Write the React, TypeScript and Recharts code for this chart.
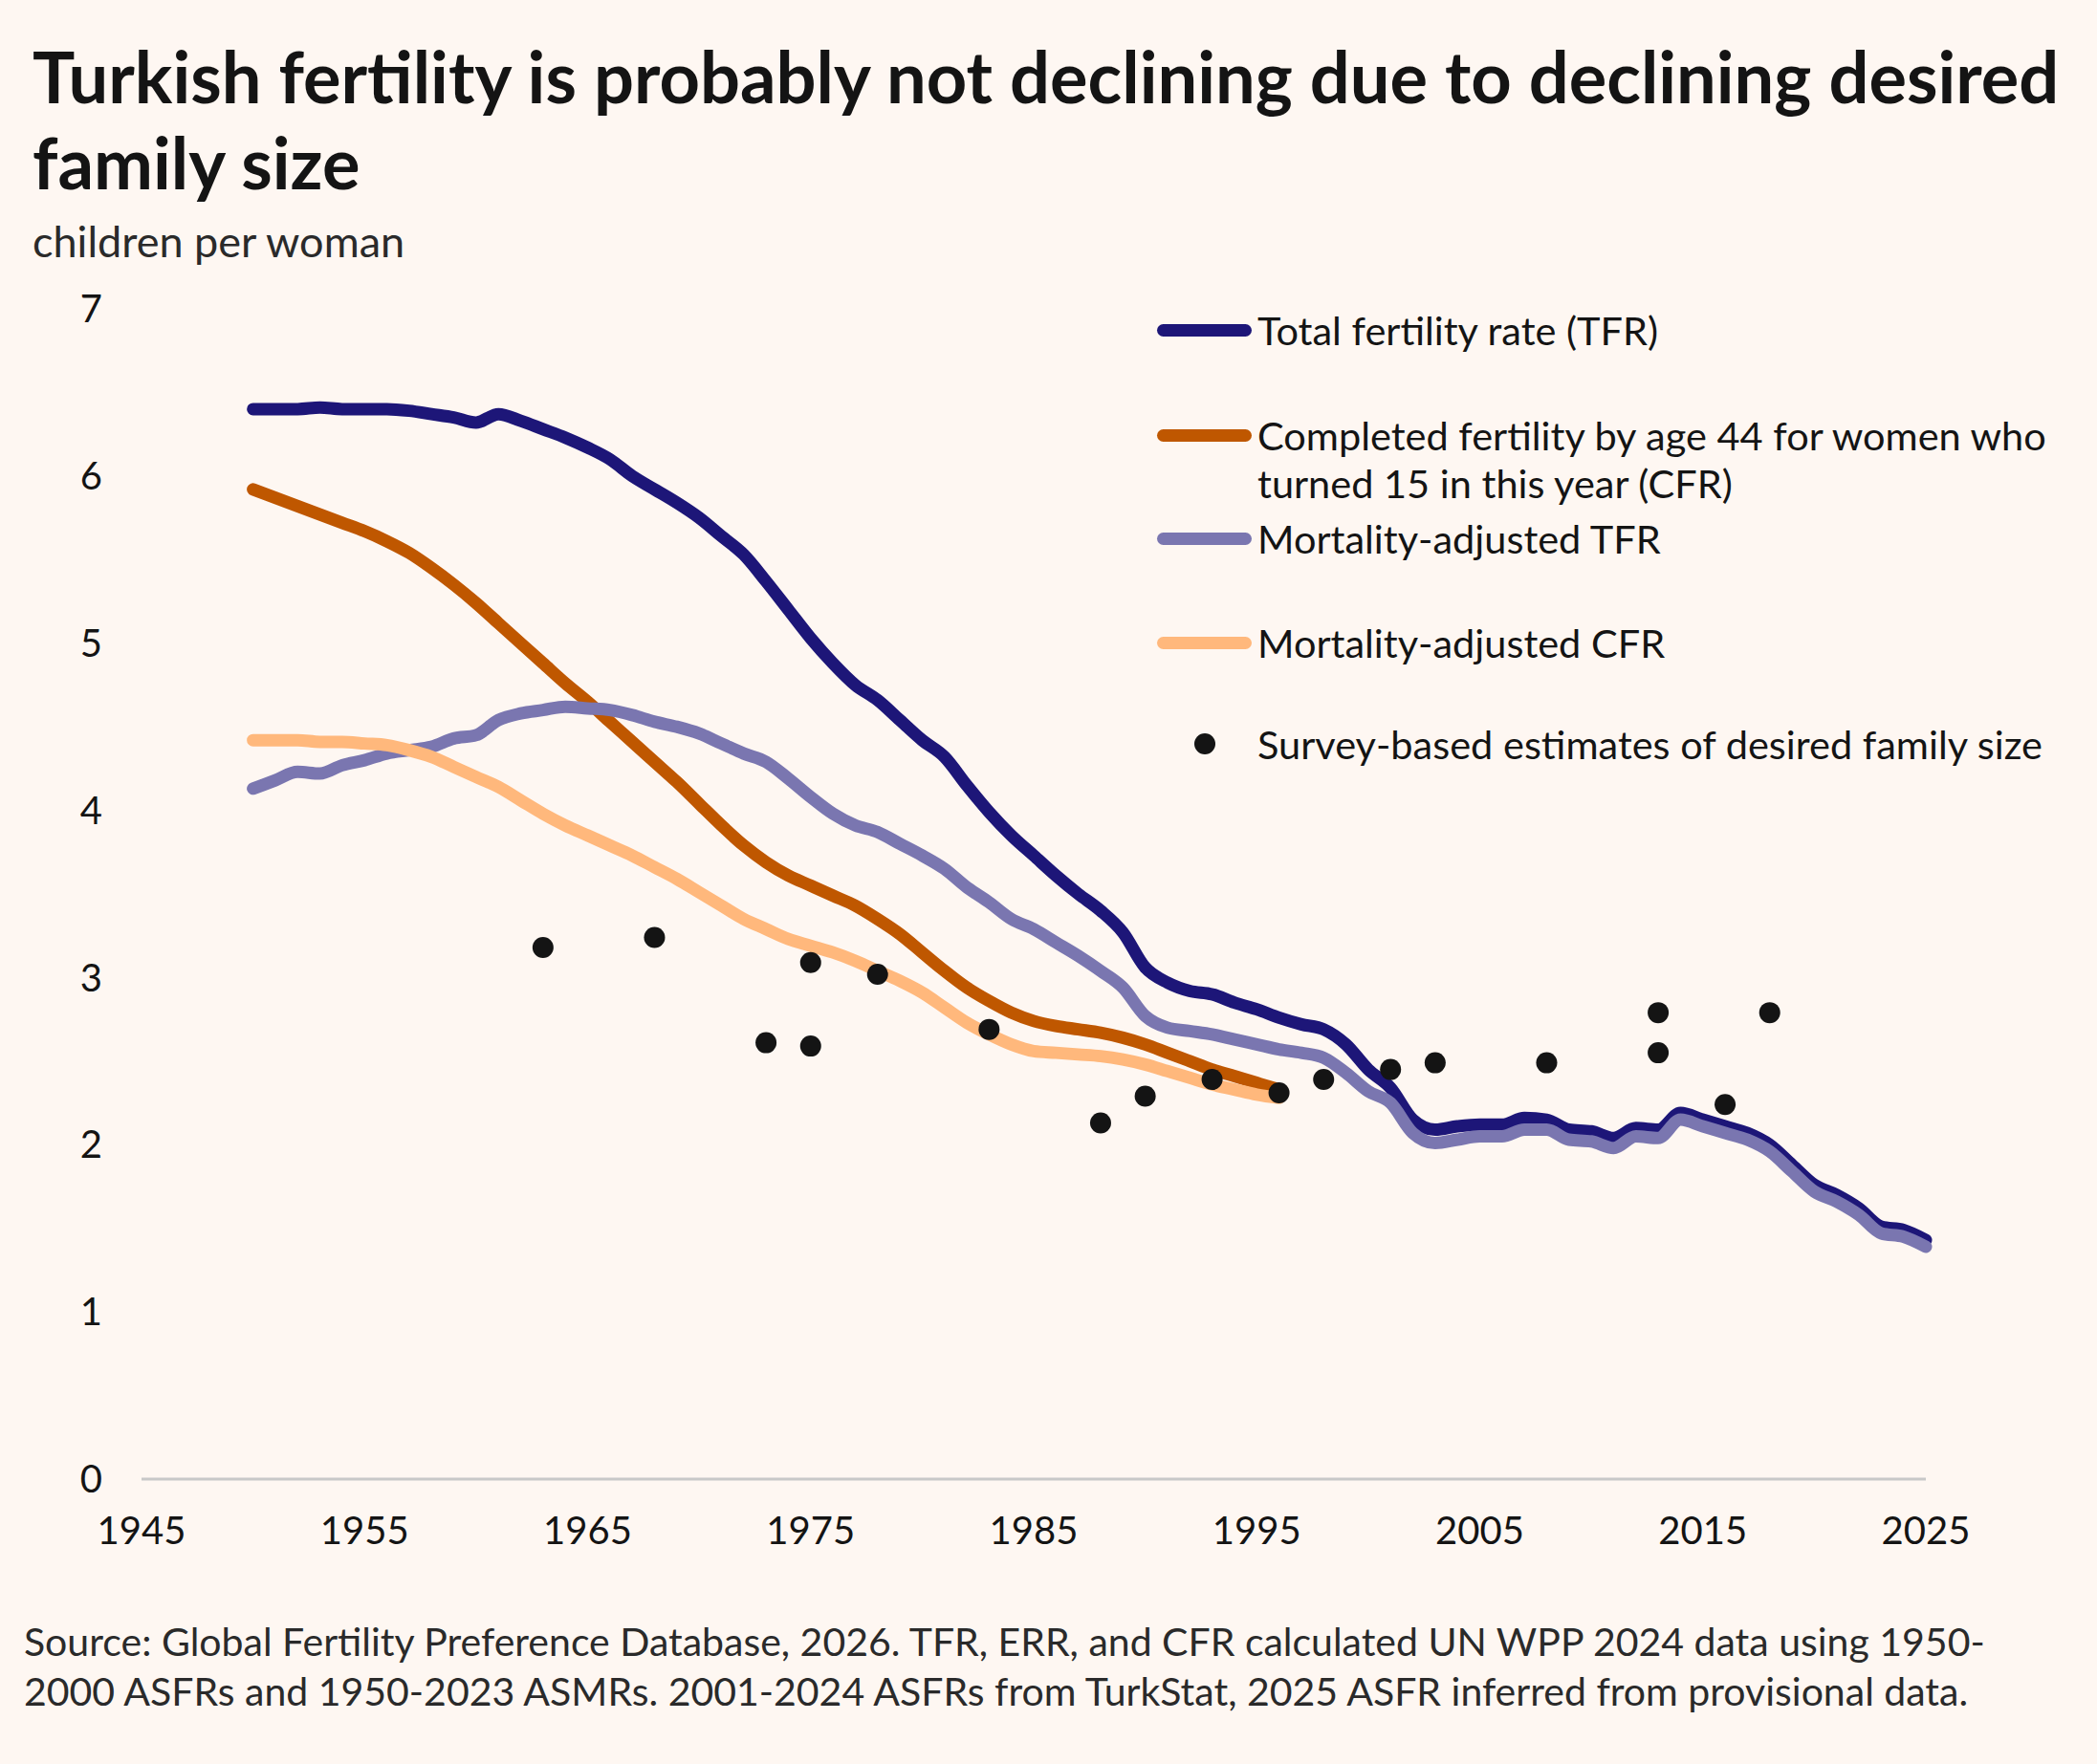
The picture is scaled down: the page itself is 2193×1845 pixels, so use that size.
import { ComposedChart, Line, Scatter, XAxis, YAxis } from 'recharts'

const YEARS = [
  1950, 1951, 1952, 1953, 1954, 1955, 1956, 1957, 1958, 1959,
  1960, 1961, 1962, 1963, 1964, 1965, 1966, 1967, 1968, 1969,
  1970, 1971, 1972, 1973, 1974, 1975, 1976, 1977, 1978, 1979,
  1980, 1981, 1982, 1983, 1984, 1985, 1986, 1987, 1988, 1989,
  1990, 1991, 1992, 1993, 1994, 1995, 1996, 1997, 1998, 1999,
  2000, 2001, 2002, 2003, 2004, 2005, 2006, 2007, 2008, 2009,
  2010, 2011, 2012, 2013, 2014, 2015, 2016, 2017, 2018, 2019,
  2020, 2021, 2022, 2023, 2024, 2025,
]

const TFR = [
  6.40, 6.40, 6.40, 6.41, 6.40, 6.40, 6.40, 6.39, 6.37, 6.35,
  6.32, 6.37, 6.33, 6.28, 6.23, 6.17, 6.10, 6.00, 5.92, 5.84,
  5.75, 5.64, 5.53, 5.37, 5.20, 5.03, 4.88, 4.75, 4.66, 4.54,
  4.42, 4.32, 4.15, 3.99, 3.85, 3.73, 3.61, 3.50, 3.40, 3.27,
  3.06, 2.97, 2.92, 2.90, 2.85, 2.81, 2.76, 2.72, 2.69, 2.60,
  2.45, 2.34, 2.15, 2.09, 2.11, 2.12, 2.12, 2.16, 2.15, 2.09,
  2.08, 2.04, 2.10, 2.09, 2.19, 2.15, 2.11, 2.07, 2.00, 1.88,
  1.76, 1.70, 1.62, 1.51, 1.49, 1.43,
]

const MORT_TFR = [
  4.13, 4.18, 4.23, 4.22, 4.27, 4.30, 4.34, 4.36, 4.38, 4.43,
  4.45, 4.54, 4.58, 4.60, 4.62, 4.61, 4.60, 4.57, 4.53, 4.50,
  4.46, 4.40, 4.34, 4.29, 4.19, 4.08, 3.98, 3.91, 3.87, 3.80,
  3.73, 3.65, 3.54, 3.45, 3.35, 3.29, 3.21, 3.13, 3.04, 2.94,
  2.77, 2.70, 2.68, 2.66, 2.63, 2.60, 2.57, 2.55, 2.52, 2.43,
  2.32, 2.25, 2.07, 2.01, 2.03, 2.05, 2.05, 2.09, 2.09, 2.03,
  2.02, 1.98, 2.05, 2.04, 2.15, 2.11, 2.07, 2.03, 1.96, 1.84,
  1.72, 1.66, 1.58, 1.47, 1.45, 1.39,
]

// cohort series stop in 1996
const CFR = [
  5.92, 5.87, 5.82, 5.77, 5.72, 5.67, 5.61, 5.54, 5.45, 5.35,
  5.24, 5.12, 5.00, 4.88, 4.76, 4.65, 4.53, 4.41, 4.29, 4.17,
  4.04, 3.91, 3.79, 3.69, 3.61, 3.55, 3.49, 3.43, 3.35, 3.26,
  3.15, 3.04, 2.94, 2.86, 2.79, 2.74, 2.71, 2.69, 2.67, 2.64,
  2.60, 2.55, 2.50, 2.45, 2.41, 2.37, 2.33,
]

const MORT_CFR = [
  4.42, 4.42, 4.42, 4.41, 4.41, 4.40, 4.39, 4.36, 4.32, 4.26,
  4.20, 4.14, 4.06, 3.98, 3.91, 3.85, 3.79, 3.73, 3.66, 3.59,
  3.51, 3.43, 3.35, 3.29, 3.23, 3.19, 3.15, 3.10, 3.04, 2.98,
  2.91, 2.82, 2.73, 2.66, 2.60, 2.56, 2.55, 2.54, 2.53, 2.51,
  2.48, 2.44, 2.40, 2.36, 2.33, 2.30, 2.28,
]

const SURVEY_YEARS = [
  1963, 1968, 1973, 1975, 1975, 1978, 1983, 1988, 1990, 1993,
  1996, 1998, 2001, 2003, 2008, 2013, 2013, 2016, 2018,
]
const SURVEY_VALUES = [
  3.18, 3.24, 2.61, 3.09, 2.59, 3.02, 2.69, 2.13, 2.29, 2.39,
  2.31, 2.39, 2.45, 2.49, 2.49, 2.79, 2.55, 2.24, 2.79,
]

const X_TICKS = [1945, 1955, 1965, 1975, 1985, 1995, 2005, 2015, 2025]
const Y_TICKS = [0, 1, 2, 3, 4, 5, 6, 7]

const rows = YEARS.map((year, i) => ({
  year,
  tfr: TFR[i],
  cfr: i < CFR.length ? CFR[i] : null,
  mtfr: MORT_TFR[i],
  mcfr: i < MORT_CFR.length ? MORT_CFR[i] : null,
}))

const survey = SURVEY_YEARS.map((year, i) => ({ year, value: SURVEY_VALUES[i] }))

const BG = '#fef7f2'
const INK = '#141414'

const LEGEND = [
  { label: 'Total fertility rate (TFR)', color: '#1d1678', kind: 'line', top: 320 },
  {
    label: 'Completed fertility by age 44 for women who\nturned 15 in this year (CFR)',
    color: '#bf5700',
    kind: 'line',
    top: 430,
  },
  { label: 'Mortality-adjusted TFR', color: '#7a76b0', kind: 'line', top: 538 },
  { label: 'Mortality-adjusted CFR', color: '#ffb87c', kind: 'line', top: 647 },
  { label: 'Survey-based estimates of desired family size', color: INK, kind: 'dot', top: 753 },
]

const Dot = (props: any) => <circle cx={props.cx} cy={props.cy} r={11} fill={INK} />

const App = () => {
  return (
    <div
      style={{
        position: 'absolute',
        left: 0,
        top: 0,
        width: 2193,
        height: 1845,
        background: BG,
        fontFamily: 'Lato, sans-serif',
        color: INK,
        overflow: 'hidden',
      }}
    >
      <div
        style={{
          position: 'absolute',
          left: 34,
          top: 35,
          width: 2160,
          fontSize: 74,
          lineHeight: '90px',
          fontWeight: 700,
          whiteSpace: 'nowrap',
        }}
      >
        Turkish fertility is probably not declining due to declining desired
        <br />
        family size
      </div>
      <div
        style={{ position: 'absolute', left: 34, top: 230, fontSize: 45, lineHeight: '45px', color: '#2a2a2a' }}
      >
        children per woman
      </div>

      <ComposedChart
        width={2193}
        height={1845}
        data={rows}
        margin={{ top: 323, right: 179, bottom: 198, left: 48 }}
      >
        <XAxis
          dataKey="year"
          type="number"
          domain={[1945, 2025]}
          ticks={X_TICKS}
          tickLine={false}
          tickSize={0}
          tickMargin={40}
          height={100}
          axisLine={{ stroke: '#c8c8c8', strokeWidth: 3 }}
          tick={{ fill: INK, fontSize: 40, fontFamily: 'Lato' }}
        />
        <YAxis
          type="number"
          domain={[0, 7]}
          ticks={Y_TICKS}
          width={100}
          axisLine={false}
          tickLine={false}
          tickSize={0}
          tickMargin={41}
          tick={{ fill: INK, fontSize: 40, fontFamily: 'Lato' }}
        />
        <Line
          dataKey="tfr"
          type="monotone"
          stroke="#1d1678"
          strokeWidth={13}
          strokeLinecap="round"
          strokeLinejoin="round"
          dot={false}
          activeDot={false}
          isAnimationActive={false}
        />
        <Line
          dataKey="cfr"
          type="monotone"
          stroke="#bf5700"
          strokeWidth={13}
          strokeLinecap="round"
          strokeLinejoin="round"
          dot={false}
          activeDot={false}
          isAnimationActive={false}
        />
        <Line
          dataKey="mtfr"
          type="monotone"
          stroke="#7a76b0"
          strokeWidth={13}
          strokeLinecap="round"
          strokeLinejoin="round"
          dot={false}
          activeDot={false}
          isAnimationActive={false}
        />
        <Line
          dataKey="mcfr"
          type="monotone"
          stroke="#ffb87c"
          strokeWidth={13}
          strokeLinecap="round"
          strokeLinejoin="round"
          dot={false}
          activeDot={false}
          isAnimationActive={false}
        />
        <Scatter data={survey} dataKey="value" shape={Dot} isAnimationActive={false} />
      </ComposedChart>

      {LEGEND.map((item) => (
        <div key={item.label} style={{ position: 'absolute', left: 1203, top: item.top }}>
          {item.kind === 'line' ? (
            <div
              style={{
                position: 'absolute',
                left: 7,
                top: 19,
                width: 99,
                height: 13,
                borderRadius: 7,
                background: item.color,
              }}
            />
          ) : (
            <div
              style={{
                position: 'absolute',
                left: 46,
                top: 14,
                width: 22,
                height: 22,
                borderRadius: 11,
                background: item.color,
              }}
            />
          )}
          <div
            style={{
              position: 'absolute',
              left: 112,
              top: 0,
              width: 950,
              fontSize: 41.5,
              lineHeight: '50px',
              whiteSpace: 'pre',
            }}
          >
            {item.label}
          </div>
        </div>
      ))}

      <div
        style={{
          position: 'absolute',
          left: 25,
          top: 1691,
          width: 2168,
          fontSize: 41,
          lineHeight: '52px',
          color: '#2a2a2a',
          whiteSpace: 'nowrap',
        }}
      >
        Source: Global Fertility Preference Database, 2026. TFR, ERR, and CFR calculated UN WPP 2024 data using 1950-
        <br />
        2000 ASFRs and 1950-2023 ASMRs. 2001-2024 ASFRs from TurkStat, 2025 ASFR inferred from provisional data.
      </div>
    </div>
  )
}

export default App
